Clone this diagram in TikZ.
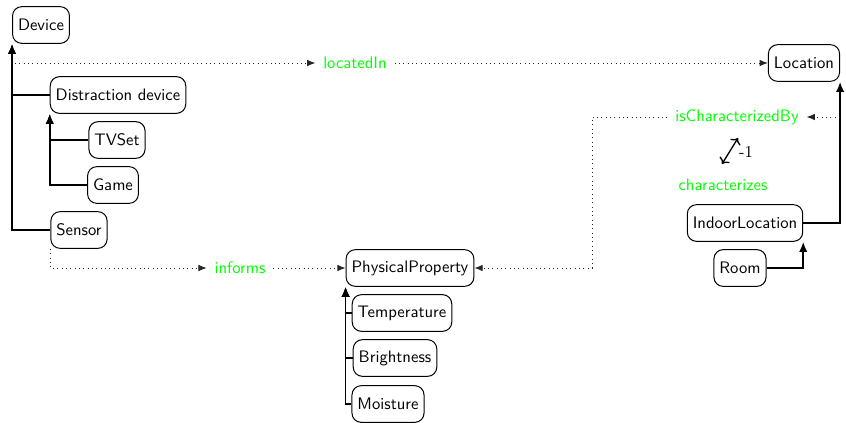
\documentclass[tikz,border=0pt]{standalone}
\usepackage{tikz}
\usetikzlibrary{arrows.meta,calc}

\begin{document}
\begin{tikzpicture}[
  x=0.6pt, y=-0.6pt,
  cls/.style={draw, rounded corners=5.5pt, minimum height=22pt, inner sep=3.3pt, semithick, font=\sffamily},
  rel/.style={font=\sffamily, text=green, inner sep=4.5pt},
  isa/.style={-{Latex[length=6pt,width=5pt]}, line width=1pt},
  prop/.style={-{Latex[length=5pt,width=4pt]}, dotted, semithick, black!85}
]
\useasboundingbox (0,0) rectangle (846,422);

% classes
\node[cls] (device) at (41,25) {Device};
\node[cls] (location) at (804,63) {Location};
\node[cls] (distr) at (118,95) {Distraction device};
\node[cls] (tvset) at (117,140) {TVSet};
\node[cls] (game) at (113,185) {Game};
\node[cls] (sensor) at (79,230) {Sensor};
\node[cls] (physprop) at (410,268) {PhysicalProperty};
\node[cls] (temp) at (402,313) {Temperature};
\node[cls] (bright) at (395,358) {Brightness};
\node[cls] (moist) at (388,404) {Moisture};
\node[cls] (indoor) at (745,223) {IndoorLocation};
\node[cls] (room) at (740,268) {Room};

% relations
\node[rel] (locatedin) at (355,63) {locatedIn};
\node[rel] (charby) at (737,117) {isCharacterizedBy};
\node[rel] (charact) at (723,185) {characterizes};
\node[rel] (informs) at (240,268) {informs};

% subclass edges
\draw[isa] (distr.west) -| (device.south west);
\draw[isa] (sensor.west) -| (device.south west);
\draw[isa] (tvset.west) -| (distr.south west);
\draw[isa] (game.west) -| (distr.south west);
\draw[isa] (temp.west) -| (physprop.south west);
\draw[isa] (bright.west) -| (physprop.south west);
\draw[isa] (moist.west) -| (physprop.south west);
\draw[isa] (room.east) -| (indoor.south east);
\draw[isa] (indoor.east) -| (location.south east);

% properties
\coordinate (devline) at ($(device.south west |- location.west)+(3,0)$);
\draw[prop] (devline) -- (locatedin);
\draw[prop] (locatedin) -- (location);
\draw[prop] (sensor.south west) |- (informs);
\draw[prop] (informs) -- (physprop);
\coordinate (locline) at (location.south east |- charby);
\draw[prop] (locline) -- (charby);
\draw[prop] (charby.west) -- ++(-75,0) |- (physprop.east);

% inverse
\coordinate (invA) at (722,164);
\coordinate (invB) at (738,138);
\draw[<->, thick] (invA) -- (invB);
\node[inner sep=1pt] (inv) at (746,152) {-1};

\end{tikzpicture}
\end{document}
